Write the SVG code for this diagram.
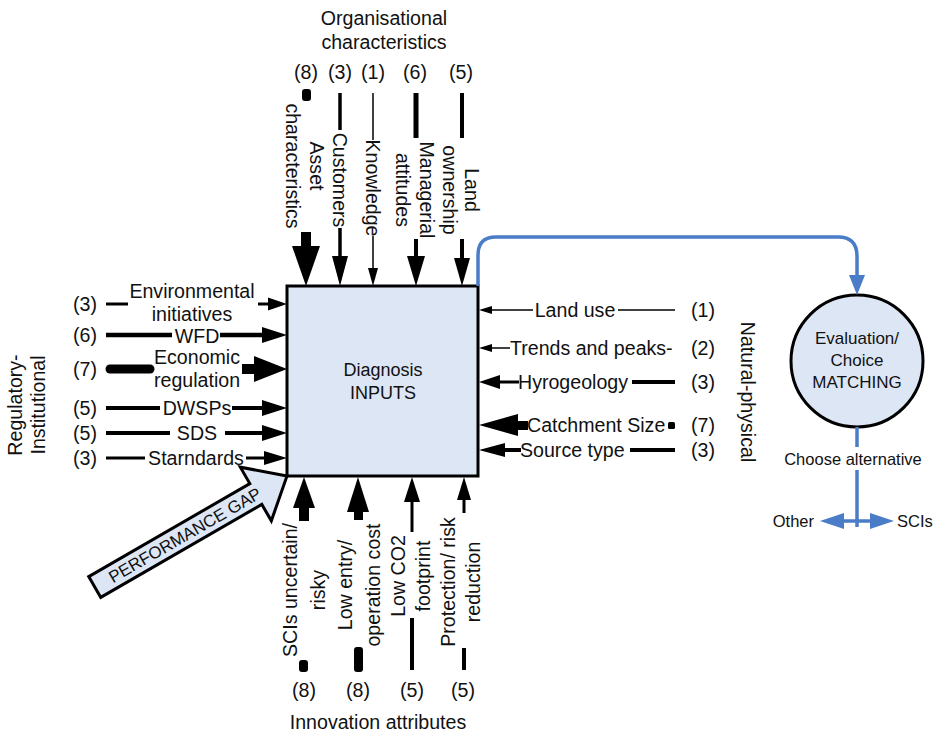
<svg xmlns="http://www.w3.org/2000/svg" width="938" height="736" viewBox="0 0 938 736">
<style>
text{font-family:"Liberation Sans",Arial,sans-serif;fill:#111;}
.t{font-size:19.6px;}
.m{text-anchor:middle;}
.s{text-anchor:start;}
.e{text-anchor:end;}
.ln{stroke:#000;fill:none;}
.hd{fill:#000;stroke:none;}
.blue{stroke:#4a7cc8;fill:none;stroke-width:3.5;}
.bh{fill:#4a7cc8;stroke:none;}
.box{fill:#dde6f5;stroke:#000;stroke-width:3;}
</style>
<rect width="938" height="736" fill="#fff"/>

<!-- Headings -->
<g id="heading-top">
<text class="t m" x="384" y="25">Organisational</text>
<text class="t m" x="384" y="49">characteristics</text>
</g>
<g id="heading-left" transform="translate(26,405) rotate(-90)">
<text class="t m" x="0" y="-4">Regulatory-</text>
<text class="t m" x="0" y="19">Institutional</text>
</g>
<g id="heading-right" transform="translate(748,392) rotate(90)">
<text class="t m" x="0" y="7">Natural-physical</text>
</g>
<g id="heading-bottom">
<text class="t m" x="378" y="729">Innovation attributes</text>
</g>

<!-- Main box -->
<g id="diagnosis">
<rect class="box" x="287" y="286" width="191" height="190"/>
<text class="m" x="383" y="376" font-size="18">Diagnosis</text>
<text class="m" x="383" y="399" font-size="18">INPUTS</text>
</g>

<!-- Performance gap -->
<g id="performance-gap" transform="translate(287,476) rotate(-30)">
<polygon points="0,0 -36,-31 -36,-12 -222,-12 -222,12 -36,12 -36,31" fill="#dde6f5" stroke="#000" stroke-width="3" stroke-linejoin="miter"/>
<text class="m" x="-118" y="6" font-size="17">PERFORMANCE GAP</text>
</g>

<!-- Evaluation circle -->
<g id="evaluation">
<circle cx="857" cy="361" r="66" fill="#dde6f5" stroke="#000" stroke-width="3"/>
<text class="m" x="857" y="344" font-size="17">Evaluation/</text>
<text class="m" x="857" y="366" font-size="17">Choice</text>
<text class="m" x="857" y="388" font-size="17">MATCHING</text>
</g>

<!-- Top inputs -->
<g id="top-asset">
<text class="t m" x="306" y="79">(8)</text>
<rect x="302" y="89" width="9" height="12" rx="3" fill="#000"/>
<g transform="translate(305,166) rotate(90)">
<text class="t m" x="0" y="-5">Asset</text>
<text class="t m" x="0" y="19">characteristics</text>
</g>
</g>
<g id="top-customers">
<text class="t m" x="340" y="79">(3)</text>
<g transform="translate(340,180) rotate(90)"><text class="t m" x="0" y="7">Customers</text></g>
</g>
<g id="top-knowledge">
<text class="t m" x="373" y="79">(1)</text>
<g transform="translate(373,188) rotate(90)"><text class="t m" x="0" y="7">Knowledge</text></g>
</g>
<g id="top-managerial">
<text class="t m" x="415" y="79">(6)</text>
<g transform="translate(415,190) rotate(90)">
<text class="t m" x="0" y="-5">Managerial</text>
<text class="t m" x="0" y="19">attitudes</text>
</g>
</g>
<g id="top-land">
<text class="t m" x="461" y="79">(5)</text>
<g transform="translate(461,190) rotate(90)">
<text class="t m" x="0" y="-4">Land</text>
<text class="t m" x="0" y="18">ownership</text>
</g>
</g>

<!-- Left inputs -->
<g id="left-env">
<text class="t m" x="85" y="311">(3)</text>
<text class="t m" x="192" y="298">Environmental</text>
<text class="t m" x="192" y="321">initiatives</text>
</g>
<g id="left-wfd">
<text class="t m" x="85" y="342">(6)</text>
<text class="t m" x="197" y="343">WFD</text>
</g>
<g id="left-econ">
<text class="t m" x="85" y="376">(7)</text>
<text class="t m" x="197" y="364">Economic</text>
<text class="t m" x="197" y="387">regulation</text>
</g>
<g id="left-dwsps">
<text class="t m" x="85" y="415">(5)</text>
<text class="t m" x="197" y="415">DWSPs</text>
</g>
<g id="left-sds">
<text class="t m" x="85" y="440">(5)</text>
<text class="t m" x="197" y="440">SDS</text>
</g>
<g id="left-standards">
<text class="t m" x="85" y="465">(3)</text>
<text class="t m" x="196" y="465">Starndards</text>
</g>

<!-- Right inputs -->
<g id="right-landuse">
<text class="t m" x="575" y="317">Land use</text>
<text class="t m" x="703" y="317">(1)</text>
</g>
<g id="right-trends">
<text class="t s" x="510" y="355">Trends and peaks-</text>
<text class="t m" x="703" y="355">(2)</text>
</g>
<g id="right-hydro">
<text class="t s" x="518" y="389">Hyrogeology</text>
<text class="t m" x="703" y="389">(3)</text>
</g>
<g id="right-catchment">
<text class="t s" x="527" y="432">Catchment Size</text>
<rect x="668" y="422" width="7" height="7" rx="1.5" fill="#000"/>
<text class="t m" x="703" y="432">(7)</text>
</g>
<g id="right-source">
<text class="t s" x="520" y="457">Source type</text>
<text class="t m" x="703" y="457">(3)</text>
</g>

<!-- Bottom inputs -->
<g id="bottom-scis">
<g transform="translate(304,590) rotate(-90)">
<text class="t m" x="0" y="-7">SCIs uncertain/</text>
<text class="t m" x="0" y="21">risky</text>
</g>
<rect x="299" y="660" width="9" height="12" rx="3" fill="#000"/>
<text class="t m" x="304" y="697">(8)</text>
</g>
<g id="bottom-lowentry">
<g transform="translate(359,585) rotate(-90)">
<text class="t m" x="0" y="-7">Low entry/</text>
<text class="t m" x="0" y="21">operation cost</text>
</g>
<rect x="354" y="647" width="9" height="25" rx="3" fill="#000"/>
<text class="t m" x="358" y="697">(8)</text>
</g>
<g id="bottom-co2">
<g transform="translate(411,576) rotate(-90)">
<text class="t m" x="0" y="-6">Low CO2</text>
<text class="t m" x="0" y="19">footprint</text>
</g>
<text class="t m" x="412" y="697">(5)</text>
</g>
<g id="bottom-protection">
<g transform="translate(461,582) rotate(-90)">
<text class="t m" x="0" y="-6">Protection/ risk</text>
<text class="t m" x="0" y="19">reduction</text>
</g>
<text class="t m" x="463" y="697">(5)</text>
</g>

<!-- Connectors -->
<g id="connectors">
<!-- top -->
<rect x="301" y="232" width="10" height="15" fill="#000"/>
<polygon class="hd" points="306,286 292,246 320,246"/>
<line class="ln" x1="340" y1="93" x2="340" y2="130" stroke-width="3.5"/>
<line class="ln" x1="340" y1="228" x2="340" y2="258" stroke-width="3.5"/>
<polygon class="hd" points="340,286 332,256 348,256"/>
<line class="ln" x1="373" y1="93" x2="373" y2="140" stroke-width="1.5"/>
<line class="ln" x1="373" y1="236" x2="373" y2="270" stroke-width="1.5"/>
<polygon class="hd" points="373,286 368,268 378,268"/>
<line class="ln" x1="416" y1="93" x2="416" y2="138" stroke-width="5"/>
<line class="ln" x1="416" y1="239" x2="416" y2="258" stroke-width="4"/>
<polygon class="hd" points="416,286 407,256 425,256"/>
<line class="ln" x1="462" y1="93" x2="462" y2="138" stroke-width="4"/>
<line class="ln" x1="462" y1="239" x2="462" y2="260" stroke-width="4"/>
<polygon class="hd" points="462,286 454,258 470,258"/>
<!-- left -->
<line class="ln" x1="106" y1="304" x2="128" y2="304" stroke-width="3"/>
<line class="ln" x1="258" y1="304" x2="270" y2="304" stroke-width="3"/>
<polygon class="hd" points="287,304 268,297.5 268,310.5"/>
<line class="ln" x1="106" y1="335" x2="172" y2="335" stroke-width="4.5"/>
<line class="ln" x1="220" y1="335" x2="264" y2="335" stroke-width="4.5"/>
<polygon class="hd" points="287,335 262,327 262,343"/>
<line class="ln" x1="110" y1="369" x2="150" y2="369" stroke-width="9" stroke-linecap="round"/>
<rect x="242" y="364" width="14" height="10" fill="#000"/>
<polygon class="hd" points="287,369 254,356 254,382"/>
<line class="ln" x1="106" y1="408" x2="160" y2="408" stroke-width="4"/>
<line class="ln" x1="232" y1="408" x2="264" y2="408" stroke-width="4"/>
<polygon class="hd" points="287,408 262,400 262,416"/>
<line class="ln" x1="106" y1="433" x2="170" y2="433" stroke-width="4"/>
<line class="ln" x1="225" y1="433" x2="264" y2="433" stroke-width="4"/>
<polygon class="hd" points="287,433 262,425 262,441"/>
<line class="ln" x1="106" y1="458" x2="145" y2="458" stroke-width="3"/>
<line class="ln" x1="246" y1="458" x2="266" y2="458" stroke-width="3"/>
<polygon class="hd" points="287,458 264,451 264,465"/>
<!-- right -->
<polygon class="hd" points="479,310 492,306 492,314"/>
<line class="ln" x1="490" y1="310" x2="533" y2="310" stroke-width="1.5"/>
<line class="ln" x1="618" y1="310" x2="675" y2="310" stroke-width="1.5"/>
<polygon class="hd" points="479,348 492,344 492,352"/>
<line class="ln" x1="490" y1="348" x2="510" y2="348" stroke-width="1.5"/>
<polygon class="hd" points="479,382 500,375 500,389"/>
<line class="ln" x1="498" y1="382" x2="519" y2="382" stroke-width="3"/>
<line class="ln" x1="632" y1="382" x2="675" y2="382" stroke-width="4"/>
<polygon class="hd" points="479,425 518,414 518,436"/>
<rect x="516" y="421" width="12" height="9" fill="#000"/>
<polygon class="hd" points="479,450 505,443 505,457"/>
<line class="ln" x1="503" y1="450" x2="521" y2="450" stroke-width="4"/>
<line class="ln" x1="630" y1="450" x2="675" y2="450" stroke-width="4"/>
<!-- bottom -->
<polygon class="hd" points="304,477 293,508 315,508"/>
<rect x="299" y="506" width="10" height="15" fill="#000"/>
<polygon class="hd" points="358,477 347,512 369,512"/>
<rect x="354" y="510" width="9" height="10" fill="#000"/>
<polygon class="hd" points="412,477 404,502 420,502"/>
<line class="ln" x1="412" y1="500" x2="412" y2="532" stroke-width="3"/>
<line class="ln" x1="412" y1="618" x2="412" y2="670" stroke-width="4"/>
<polygon class="hd" points="464,477 457,500 471,500"/>
<line class="ln" x1="464" y1="498" x2="464" y2="513" stroke-width="3"/>
<line class="ln" x1="464" y1="648" x2="464" y2="670" stroke-width="4"/>
<!-- blue flow -->
<path class="blue" d="M478,286 L478,255 Q478,237 496,237 L838,237 Q857,237 857,256 L857,278"/>
<polygon class="bh" points="857,295 849,275 865,275"/>
<line class="blue" x1="857" y1="427" x2="857" y2="447" stroke-width="4"/>
<line class="blue" x1="857" y1="470" x2="857" y2="527" stroke-width="4"/>
<line class="blue" x1="838" y1="521" x2="878" y2="521" stroke-width="3.5"/>
<polygon class="bh" points="820,521 844,513 844,529"/>
<polygon class="bh" points="894,521 870,513 870,529"/>
</g>

<g id="choose-labels">
<text class="m" x="853" y="465" font-size="16.5">Choose alternative</text>
<text class="e" x="814" y="527" font-size="16.5">Other</text>
<text class="s" x="897" y="527" font-size="16.5">SCIs</text>
</g>
</svg>
